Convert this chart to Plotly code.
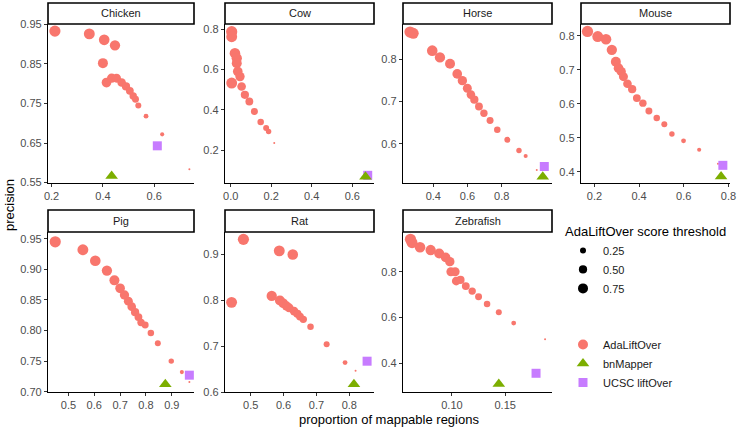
import math
import plotly.graph_objects as go

W, H = 754, 429

# ---------------- data ----------------
species = ["Chicken", "Cow", "Horse", "Mouse", "Pig", "Rat", "Zebrafish"]

chicken_x = [0.213, 0.347, 0.405, 0.447, 0.400, 0.414, 0.434, 0.453, 0.473, 0.490, 0.505, 0.518, 0.527, 0.538, 0.568, 0.631, 0.737]
chicken_y = [0.933, 0.926, 0.911, 0.897, 0.852, 0.803, 0.814, 0.814, 0.803, 0.793, 0.782, 0.769, 0.761, 0.745, 0.718, 0.672, 0.584]
chicken_t = [0.95, 0.90, 0.85, 0.80, 0.75, 0.70, 0.65, 0.60, 0.55, 0.50, 0.45, 0.40, 0.35, 0.25, 0.15, 0.10, 0.00]
chicken_bn = (0.434, 0.567)
chicken_ucsc = (0.612, 0.643)

cow_x = [0.005, 0.005, 0.021, 0.030, 0.030, 0.035, 0.046, 0.005, 0.054, 0.070, 0.092, 0.117, 0.148, 0.175, 0.187, 0.215]
cow_y = [0.787, 0.762, 0.680, 0.656, 0.631, 0.590, 0.565, 0.533, 0.516, 0.475, 0.442, 0.393, 0.340, 0.311, 0.294, 0.237]
cow_t = [0.95, 0.90, 0.85, 0.80, 0.75, 0.70, 0.65, 0.90, 0.55, 0.50, 0.45, 0.35, 0.30, 0.25, 0.20, 0.00]
cow_bn = (0.665, 0.070)
cow_ucsc = (0.676, 0.077)

horse_x = [0.264, 0.283, 0.394, 0.439, 0.498, 0.540, 0.570, 0.599, 0.620, 0.640, 0.667, 0.696, 0.732, 0.774, 0.833, 0.901, 0.940, 1.005]
horse_y = [0.864, 0.861, 0.820, 0.804, 0.789, 0.765, 0.749, 0.731, 0.716, 0.704, 0.688, 0.672, 0.655, 0.633, 0.609, 0.584, 0.571, 0.538]
horse_t = [0.95, 0.90, 0.85, 0.80, 0.75, 0.70, 0.65, 0.60, 0.55, 0.50, 0.45, 0.40, 0.35, 0.30, 0.25, 0.20, 0.10, 0.00]
horse_bn = (1.040, 0.522)
horse_ucsc = (1.049, 0.546)

mouse_x = [0.169, 0.215, 0.252, 0.278, 0.296, 0.308, 0.320, 0.330, 0.348, 0.369, 0.390, 0.417, 0.444, 0.479, 0.513, 0.547, 0.599, 0.669, 0.753]
mouse_y = [0.813, 0.798, 0.790, 0.759, 0.724, 0.705, 0.695, 0.680, 0.659, 0.643, 0.617, 0.602, 0.579, 0.558, 0.540, 0.511, 0.491, 0.465, 0.424]
mouse_t = [0.95, 0.90, 0.85, 0.80, 0.75, 0.70, 0.65, 0.60, 0.55, 0.50, 0.45, 0.40, 0.35, 0.30, 0.25, 0.20, 0.15, 0.10, 0.00]
mouse_bn = (0.767, 0.386)
mouse_ucsc = (0.775, 0.419)

pig_x = [0.449, 0.556, 0.604, 0.649, 0.678, 0.700, 0.717, 0.732, 0.745, 0.758, 0.771, 0.781, 0.797, 0.819, 0.846, 0.898, 0.939, 0.968]
pig_y = [0.945, 0.932, 0.914, 0.898, 0.882, 0.869, 0.858, 0.848, 0.839, 0.830, 0.822, 0.813, 0.809, 0.796, 0.779, 0.750, 0.732, 0.716]
pig_t = [0.95, 0.90, 0.85, 0.80, 0.75, 0.70, 0.65, 0.60, 0.55, 0.50, 0.45, 0.40, 0.35, 0.30, 0.25, 0.20, 0.10, 0.00]
pig_bn = (0.875, 0.712)
pig_ucsc = (0.968, 0.727)

rat_x = [0.478, 0.442, 0.587, 0.628, 0.564, 0.589, 0.599, 0.609, 0.617, 0.632, 0.642, 0.650, 0.660, 0.682, 0.731, 0.787, 0.819]
rat_y = [0.932, 0.795, 0.907, 0.899, 0.809, 0.799, 0.793, 0.787, 0.783, 0.776, 0.770, 0.764, 0.758, 0.742, 0.704, 0.664, 0.646]
rat_t = [0.95, 0.90, 0.90, 0.85, 0.80, 0.75, 0.70, 0.65, 0.60, 0.55, 0.50, 0.45, 0.40, 0.30, 0.25, 0.15, 0.00]
rat_bn = (0.814, 0.617)
rat_ucsc = (0.854, 0.667)

zebrafish_x = [0.061, 0.0625, 0.070, 0.080, 0.088, 0.094, 0.098, 0.099, 0.103, 0.104, 0.108, 0.113, 0.119, 0.125, 0.133, 0.144, 0.158, 0.1875]
zebrafish_y = [0.942, 0.927, 0.907, 0.895, 0.880, 0.863, 0.844, 0.800, 0.800, 0.759, 0.764, 0.737, 0.715, 0.690, 0.659, 0.622, 0.575, 0.504]
zebrafish_t = [0.95, 0.90, 0.85, 0.80, 0.75, 0.70, 0.65, 0.60, 0.60, 0.55, 0.50, 0.45, 0.40, 0.35, 0.30, 0.25, 0.15, 0.00]
zebrafish_bn = (0.144, 0.308)
zebrafish_ucsc = (0.179, 0.355)

# tick labels
chicken_xticks = [0.2, 0.4, 0.6];            chicken_yticks = [0.55, 0.65, 0.75, 0.85, 0.95]
cow_xticks = [0.0, 0.2, 0.4, 0.6];           cow_yticks = [0.2, 0.4, 0.6, 0.8]
horse_xticks = [0.4, 0.6, 0.8];              horse_yticks = [0.6, 0.7, 0.8]
mouse_xticks = [0.2, 0.4, 0.6, 0.8];         mouse_yticks = [0.4, 0.5, 0.6, 0.7, 0.8]
pig_xticks = [0.5, 0.6, 0.7, 0.8, 0.9];      pig_yticks = [0.70, 0.75, 0.80, 0.85, 0.90, 0.95]
rat_xticks = [0.5, 0.6, 0.7, 0.8];           rat_yticks = [0.6, 0.7, 0.8, 0.9]
zebrafish_xticks = [0.10, 0.15];             zebrafish_yticks = [0.4, 0.6, 0.8]

legend_thresholds = [0.25, 0.50, 0.75]
methods = ["AdaLiftOver", "bnMapper", "UCSC liftOver"]

# ---------------- styling / layout ----------------
COL_ADA = "#F8766D"
COL_BN = "#7CAE00"
COL_UCSC = "#C77CFF"
FONT = "Liberation Sans, Arial, sans-serif"

panels = [
    ("Chicken", chicken_x, chicken_y, chicken_t, chicken_bn, chicken_ucsc, chicken_xticks, chicken_yticks, [0.186, 0.755], [0.549, 0.951], "{:.1f}", "{:.2f}"),
    ("Cow", cow_x, cow_y, cow_t, cow_bn, cow_ucsc, cow_xticks, cow_yticks, [-0.028, 0.707], [0.039, 0.825], "{:.1f}", "{:.1f}"),
    ("Horse", horse_x, horse_y, horse_t, horse_bn, horse_ucsc, horse_xticks, horse_yticks, [0.223, 1.094], [0.507, 0.883], "{:.1f}", "{:.1f}"),
    ("Mouse", mouse_x, mouse_y, mouse_t, mouse_bn, mouse_ucsc, mouse_xticks, mouse_yticks, [0.140, 0.807], [0.367, 0.835], "{:.1f}", "{:.1f}"),
    ("Pig", pig_x, pig_y, pig_t, pig_bn, pig_ucsc, pig_xticks, pig_yticks, [0.421, 0.986], [0.6995, 0.961], "{:.1f}", "{:.2f}"),
    ("Rat", rat_x, rat_y, rat_t, rat_bn, rat_ucsc, rat_xticks, rat_yticks, [0.422, 0.875], [0.600, 0.948], "{:.1f}", "{:.1f}"),
    ("Zebrafish", zebrafish_x, zebrafish_y, zebrafish_t, zebrafish_bn, zebrafish_ucsc, zebrafish_xticks, zebrafish_yticks, [0.054, 0.194], [0.273, 0.974], "{:.2f}", "{:.1f}"),
]

cols_px = [(48, 194), (225, 374), (403, 552), (581, 730)]
rows_px = [(24, 183), (232, 392)]
strips_px = [(3, 24), (210, 232)]


def size_of(t):
    return math.sqrt(4 + 128 * t)


def fx(px):
    return px / W


def fy(py):
    return 1 - py / H


fig = go.Figure()
layout = dict(
    width=W, height=H,
    margin=dict(l=0, r=0, t=0, b=0, autoexpand=False),
    plot_bgcolor="white", paper_bgcolor="white",
    font=dict(family=FONT, size=11, color="#4d4d4d"),
    shapes=[], annotations=[],
)

for i, (name, xs, ys, ts, bn, uc, xt, yt, xr, yr, xf, yf) in enumerate(panels):
    r, c = divmod(i, 4)
    k = "" if i == 0 else str(i + 1)
    xa, ya = "x" + k, "y" + k
    x0, x1 = cols_px[c]
    y0, y1 = rows_px[r]
    s0, s1 = strips_px[r]
    common = dict(
        showline=True, linecolor="black", linewidth=1.3, mirror=False,
        ticks="outside", ticklen=3, tickcolor="#333", tickwidth=1,
        showgrid=False, zeroline=False, automargin=False,
        tickfont=dict(size=11, color="#4d4d4d", family=FONT),
    )
    layout["xaxis" + k] = dict(
        domain=[fx(x0), fx(x1)], range=xr, anchor=ya,
        tickvals=xt, ticktext=[xf.format(v) for v in xt], **common,
    )
    layout["yaxis" + k] = dict(
        domain=[fy(y1), fy(y0)], range=yr, anchor=xa,
        tickvals=yt, ticktext=[yf.format(v) for v in yt], **common,
    )
    fig.add_trace(go.Scatter(
        x=xs, y=ys, mode="markers", xaxis=xa, yaxis=ya, showlegend=False,
        cliponaxis=False, hoverinfo="skip",
        marker=dict(color=COL_ADA, opacity=1, size=[size_of(t) for t in ts], line=dict(width=0)),
    ))
    fig.add_trace(go.Scatter(
        x=[uc[0]], y=[uc[1]], mode="markers", xaxis=xa, yaxis=ya, showlegend=False,
        cliponaxis=False, hoverinfo="skip",
        marker=dict(color=COL_UCSC, opacity=1, size=9, symbol="square", line=dict(width=0)),
    ))
    fig.add_trace(go.Scatter(
        x=[bn[0]], y=[bn[1]], mode="markers", xaxis=xa, yaxis=ya, showlegend=False,
        cliponaxis=False, hoverinfo="skip",
        marker=dict(color=COL_BN, opacity=1, size=11, symbol="triangle-up", line=dict(width=0)),
    ))
    # strip
    layout["shapes"].append(dict(
        type="rect", xref="paper", yref="paper",
        x0=fx(x0), x1=fx(x1), y0=fy(s1), y1=fy(s0),
        line=dict(color="black", width=1.6), fillcolor="white", layer="above",
    ))
    layout["annotations"].append(dict(
        text=name, xref="paper", yref="paper", x=fx((x0 + x1) / 2), y=fy((s0 + s1) / 2),
        showarrow=False, xanchor="center", yanchor="middle",
        font=dict(size=11, color="#1a1a1a", family=FONT),
    ))

# legend: size
for t in legend_thresholds:
    fig.add_trace(go.Scatter(
        x=[None], y=[None], mode="markers", name=f"{t:.2f}", legend="legend",
        marker=dict(color="black", size=size_of(t), opacity=1),
    ))
# legend: method
for m, col, sym, sz in zip(methods, [COL_ADA, COL_BN, COL_UCSC], ["circle", "triangle-up", "square"], [10, 11, 9]):
    fig.add_trace(go.Scatter(
        x=[None], y=[None], mode="markers", name=m, legend="legend2",
        marker=dict(color=col, size=sz, symbol=sym, opacity=1),
    ))

layout["legend"] = dict(
    x=fx(563), y=fy(219), xanchor="left", yanchor="top",
    title=dict(text="AdaLiftOver score threshold", font=dict(size=13, color="black", family=FONT)),
    font=dict(size=11, color="#1a1a1a", family=FONT),
    itemsizing="trace", bgcolor="rgba(0,0,0,0)", tracegroupgap=0,
)
layout["legend2"] = dict(
    x=fx(563), y=fy(330), xanchor="left", yanchor="top",
    font=dict(size=11, color="#1a1a1a", family=FONT),
    itemsizing="trace", bgcolor="rgba(0,0,0,0)", tracegroupgap=0,
)

layout["annotations"].append(dict(
    text="precision", xref="paper", yref="paper", x=fx(10), y=fy(205),
    showarrow=False, textangle=-90, xanchor="center", yanchor="middle",
    font=dict(size=13, color="black", family=FONT),
))
layout["annotations"].append(dict(
    text="proportion of mappable regions", xref="paper", yref="paper", x=fx(389), y=fy(419),
    showarrow=False, xanchor="center", yanchor="middle",
    font=dict(size=13, color="black", family=FONT),
))

fig.update_layout(**layout)
fig.write_html(
    "out.html",
    config={"displayModeBar": False},
    post_script="document.body.style.margin='0';document.body.style.padding='0';",
)
